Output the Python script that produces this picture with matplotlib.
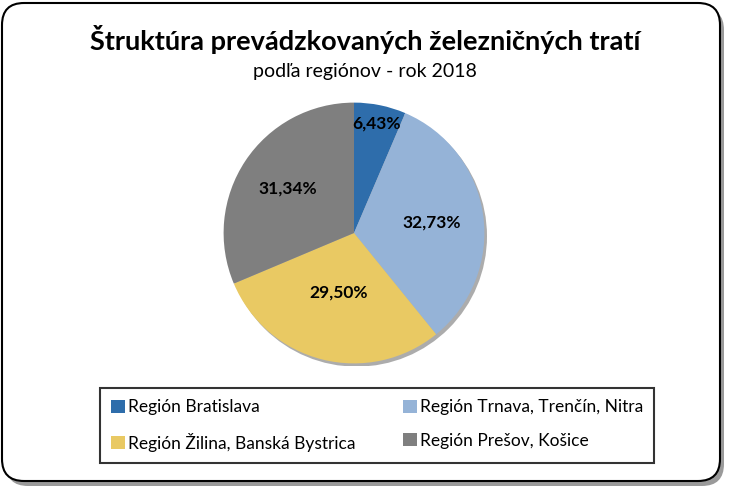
import matplotlib
matplotlib.use("Agg")
import matplotlib.pyplot as plt
import numpy as np
from matplotlib.patches import FancyBboxPatch, Circle

regions = ["Región Bratislava", "Región Trnava, Trenčín, Nitra",
           "Región Žilina, Banská Bystrica", "Región Prešov, Košice"]
shares = [6.43, 32.73, 29.50, 31.34]
colors = ["#2E6DAB", "#95B3D7", "#E9C963", "#7F7F7F"]
label_dist = [0.86, 0.60, 0.47, 0.61]

plt.rcParams["font.family"] = ["Lato", "DejaVu Sans"]

W, H = 734, 488
fig = plt.figure(figsize=(W / 100, H / 100), dpi=100)

# outer rounded frame with shadow
shadow = FancyBboxPatch((6 / W, 2 / H), 718 / W, 478 / H,
                        boxstyle="round,pad=0,rounding_size=0.03",
                        transform=fig.transFigure, facecolor="#9a9a9a",
                        edgecolor="none", zorder=-2, mutation_aspect=W / H)
frame = FancyBboxPatch((2 / W, 7 / H), 718 / W, 478 / H,
                       boxstyle="round,pad=0,rounding_size=0.03",
                       transform=fig.transFigure, facecolor="white",
                       edgecolor="black", linewidth=1.5, zorder=-1,
                       mutation_aspect=W / H)
fig.patches.extend([shadow, frame])

fig.text(365 / W, 1 - 40 / H, "Štruktúra prevádzkovaných železničných tratí",
         ha="center", va="center", fontsize=19.5, fontweight="bold")
fig.text(365 / W, 1 - 72 / H, "podľa regiónov - rok 2018",
         ha="center", va="center", fontsize=14)

cx, cy, r = 354, H - 233, 133
ax = fig.add_axes([(cx - r) / W, (cy - r) / H, 2 * r / W, 2 * r / H])
ax.set_zorder(2)

# soft shadow under the pie
ax.add_patch(Circle((0.02, -0.025), 1.0, facecolor="#5a5a5a", alpha=0.5,
                    edgecolor="none", zorder=0))

wedges, _ = ax.pie(shares, colors=colors, startangle=90, counterclock=False,
                   radius=1.0, wedgeprops={"linewidth": 0})
ax.set_xlim(-1.02, 1.02)
ax.set_ylim(-1.02, 1.02)
ax.axis("off")

for w, v, d in zip(wedges, shares, label_dist):
    ang = np.deg2rad((w.theta1 + w.theta2) / 2)
    ax.text(d * np.cos(ang), d * np.sin(ang), f"{v:.2f}%".replace(".", ","),
            ha="center", va="center", fontsize=12.5, fontweight="bold")

# row-major order like the original legend
order = [0, 2, 1, 3]
leg = fig.legend([wedges[i] for i in order], [regions[i] for i in order],
                 ncol=2, loc="upper left",
                 bbox_to_anchor=(100 / W, 1 - 388 / H), frameon=True,
                 fontsize=12.5, handlelength=0.8, handleheight=0.8,
                 handletextpad=0.15, columnspacing=2.75, labelspacing=1.0,
                 borderpad=0.65, fancybox=False, borderaxespad=0)
leg.get_frame().set_edgecolor("black")
leg.get_frame().set_linewidth(1.5)
leg.set_zorder(3)

fig.savefig("out.png", dpi=100)
